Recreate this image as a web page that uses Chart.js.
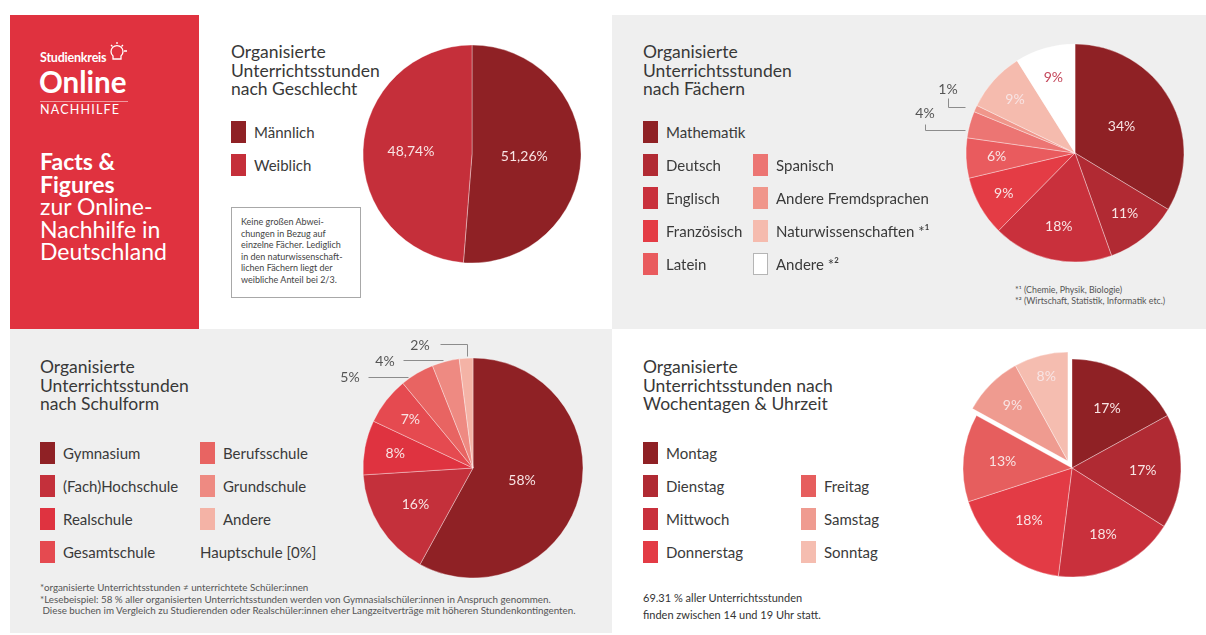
<!DOCTYPE html>
<html lang="de">
<head>
<meta charset="utf-8">
<script src="https://cdn.jsdelivr.net/npm/chart.js@4.4.1/dist/chart.umd.min.js"></script>
<style>
  body { margin: 0; width: 1206px; height: 635px; position: relative; background: #fff; font-family: Lato, "Open Sans", sans-serif; color: #3a3a3a; overflow: hidden; }
  .box { position: absolute; }
  .gray { background: #efefef; }
  .title { position: absolute; font-size: 17.5px; line-height: 18.5px; color: #383838; white-space: nowrap; }
  .leg { position: absolute; display: flex; align-items: center; height: 22px; font-size: 15px; color: #3a3a3a; white-space: nowrap; }
  .sw { width: 15px; height: 22px; margin-right: 8px; box-sizing: border-box; }
  .note { position: absolute; white-space: nowrap; color: #555; }
  canvas { position: absolute; }
</style>
</head>
<body>

<!-- panels -->
<div class="box" style="left:10px;top:15px;width:189px;height:314px;background:#e0323f;"></div>
<div class="box gray" style="left:612px;top:15px;width:594px;height:314px;"></div>
<div class="box gray" style="left:10px;top:329px;width:602px;height:304px;"></div>

<!-- logo / intro -->
<div class="box" style="left:40px;top:50px;color:#fff;font-weight:700;font-size:12.5px;letter-spacing:-0.2px;">Studienkreis</div>
<svg class="box" style="left:108px;top:40px;" width="22" height="24" viewBox="0 0 22 24">
  <path d="M5 16 a6 6 0 1 1 8 0 l0 3 l-8 0 z" fill="none" stroke="#fff" stroke-width="1.3"/>
  <path d="M9 2 v2 M3 5 l1.5 1.5 M15 5 l-1.5 1.5 M16 11 h3" stroke="#fff" stroke-width="1.3"/>
</svg>
<div class="box" style="left:39px;top:66px;color:#fff;font-weight:700;font-size:29.5px;line-height:31px;">Online</div>
<div class="box" style="left:40px;top:101px;width:88px;height:1px;background:rgba(255,255,255,0.5);"></div>
<div class="box" style="left:40px;top:102px;color:#fff;font-size:12.5px;letter-spacing:1.2px;">NACHHILFE</div>
<div class="box" style="left:40px;top:150px;color:#fff;font-size:23px;line-height:22.6px;">
  <b>Facts &amp;<br>Figures</b><br>zur Online-<br>Nachhilfe in<br>Deutschland
</div>

<!-- titles -->
<div class="title" style="left:231px;top:43px;">Organisierte<br>Unterrichtsstunden<br>nach Geschlecht</div>
<div class="title" style="left:643px;top:43px;">Organisierte<br>Unterrichtsstunden<br>nach Fächern</div>
<div class="title" style="left:40px;top:358px;">Organisierte<br>Unterrichtsstunden<br>nach Schulform</div>
<div class="title" style="left:643px;top:358px;">Organisierte<br>Unterrichtsstunden nach<br>Wochentagen &amp; Uhrzeit</div>

<!-- notes -->
<div class="box" style="left:231px;top:207px;width:130px;height:91px;border:1px solid #a8a8a8;box-sizing:border-box;background:#fff;"></div>
<div class="note" style="left:241px;top:216px;font-size:9px;line-height:11.6px;color:#444;">Keine großen Abwei-<br>chungen in Bezug auf<br>einzelne Fächer. Lediglich<br>in den naturwissenschaft-<br>lichen Fächern liegt der<br>weibliche Anteil bei 2/3.</div>
<div class="note" style="left:1015px;top:285px;font-size:8.8px;line-height:10.5px;">*¹ (Chemie, Physik, Biologie)<br>*² (Wirtschaft, Statistik, Informatik etc.)</div>
<div class="note" style="left:40px;top:582px;font-size:9.8px;line-height:11.5px;">*organisierte Unterrichtsstunden ≠ unterrichtete Schüler:innen<br>*Lesebeispiel: 58 % aller organisierten Unterrichtsstunden werden von Gymnasialschüler:innen in Anspruch genommen.<br>&nbsp;Diese buchen im Vergleich zu Studierenden oder Realschüler:innen eher Langzeitverträge mit höheren Stundenkontingenten.</div>
<div class="note" style="left:643px;top:589px;font-size:11px;line-height:17px;color:#333;">69.31 % aller Unterrichtsstunden<br>finden zwischen 14 und 19 Uhr statt.</div>

<canvas id="pieGender" width="240" height="240" style="left:352px;top:34px;"></canvas>
<canvas id="pieSubject" width="340" height="240" style="left:905px;top:33px;"></canvas>
<canvas id="pieSchool" width="300" height="270" style="left:323px;top:333px;"></canvas>
<canvas id="pieDay" width="260" height="260" style="left:942px;top:338px;"></canvas>

<script>
// ---- data ----
const genderLabels = ["Männlich", "Weiblich"];
const genderValues = [51.26, 48.74];

const subjectLabels = ["Mathematik", "Deutsch", "Englisch", "Französisch", "Latein",
  "Spanisch", "Andere Fremdsprachen", "Naturwissenschaften *¹", "Andere *²"];
const subjectValues = [34, 11, 18, 9, 6, 4, 1, 9, 9];

const schoolLabels = ["Gymnasium", "(Fach)Hochschule", "Realschule", "Gesamtschule",
  "Berufsschule", "Grundschule", "Andere", "Hauptschule"];
const schoolValues = [58, 16, 8, 7, 5, 4, 2, 0];

const dayLabels = ["Montag", "Dienstag", "Mittwoch", "Donnerstag", "Freitag", "Samstag", "Sonntag"];
const dayValues = [17, 17, 18, 18, 13, 9, 8];

// ---- colours ----
const DARK = "#8f2125";
const genderColors = [DARK, "#c52f3a"];
const subjectColors = [DARK, "#b12a33", "#c9303c", "#e43c45", "#e95b5e", "#ec7573", "#f0968b", "#f5bbae", "#ffffff"];
const schoolColors = [DARK, "#c4303b", "#df3340", "#e54a50", "#e86462", "#ee8a82", "#f4b3a6", "transparent"];
const dayColors = [DARK, "#b02a33", "#c9303c", "#e33b45", "#e65e5e", "#ef9b90", "#f5bdb0"];

// ---- legends (html) ----
function buildLegend(origin, colGap, labels, values, colors, slots) {
  labels.forEach((lab, i) => {
    const [col, row] = slots[i];
    const el = document.createElement("div");
    el.className = "leg";
    el.style.left = (origin[0] + col * colGap) + "px";
    el.style.top = (origin[1] + row * 33) + "px";
    if (values[i] === 0) {
      el.textContent = lab + " [0%]";
    } else {
      const sw = document.createElement("div");
      sw.className = "sw";
      sw.style.background = colors[i];
      if (colors[i] === "#ffffff") sw.style.border = "1px solid #b5b5b5";
      el.appendChild(sw);
      el.appendChild(document.createTextNode(lab));
    }
    document.body.appendChild(el);
  });
}
buildLegend([231, 121], 0, genderLabels, genderValues, genderColors, [[0, 0], [0, 1]]);
buildLegend([643, 121], 110, subjectLabels, subjectValues, subjectColors,
  [[0, 0], [0, 1], [0, 2], [0, 3], [0, 4], [1, 1], [1, 2], [1, 3], [1, 4]]);
buildLegend([40, 442], 160, schoolLabels, schoolValues, schoolColors,
  [[0, 0], [0, 1], [0, 2], [0, 3], [1, 0], [1, 1], [1, 2], [1, 3]]);
buildLegend([643, 442], 158, dayLabels, dayValues, dayColors,
  [[0, 0], [0, 1], [0, 2], [0, 3], [1, 1], [1, 2], [1, 3]]);

// ---- plugins ----
// move a group of slices outward together (pulled-out wedge)
const explode = {
  id: "explode",
  beforeDatasetsDraw(chart, args, opts) {
    if (!opts.indices) return;
    const meta = chart.getDatasetMeta(0);
    const a = chart.chartArea;
    const cx = (a.left + a.right) / 2, cy = (a.top + a.bottom) / 2;
    const arcs = opts.indices.map(i => meta.data[i]);
    const mid = (Math.min(...arcs.map(e => e.startAngle)) + Math.max(...arcs.map(e => e.endAngle))) / 2;
    arcs.forEach(e => {
      e.x = cx + Math.cos(mid) * opts.distance;
      e.y = cy + Math.sin(mid) * opts.distance;
    });
  }
};

const sliceLabels = {
  id: "sliceLabels",
  afterDatasetsDraw(chart, args, opts) {
    const meta = chart.getDatasetMeta(0);
    const values = chart.data.datasets[0].data;
    const ctx = chart.ctx;
    ctx.save();
    ctx.font = "14px Lato, sans-serif";
    ctx.textAlign = "center";
    ctx.textBaseline = "middle";
    meta.data.forEach((arc, i) => {
      const f = opts.radius[i];
      if (f == null || !values[i]) return;
      const mid = (arc.startAngle + arc.endAngle) / 2;
      ctx.fillStyle = (opts.colors && opts.colors[i]) || "#f8e4e4";
      ctx.fillText(opts.format(values[i]),
        arc.x + Math.cos(mid) * arc.outerRadius * f,
        arc.y + Math.sin(mid) * arc.outerRadius * f);
    });
    // leader labels for thin slices
    const a = chart.chartArea;
    const cx = (a.left + a.right) / 2, cy = (a.top + a.bottom) / 2;
    (opts.leaders || []).forEach(l => {
      ctx.fillStyle = "#555";
      ctx.fillText(opts.format(values[l.i]), cx + l.label[0], cy + l.label[1]);
      ctx.strokeStyle = "#8c8c8c";
      ctx.lineWidth = 1;
      ctx.beginPath();
      l.path.forEach((p, k) => {
        const x = Math.round(cx + p[0]) + 0.5, y = Math.round(cy + p[1]) + 0.5;
        if (k === 0) ctx.moveTo(x, y); else ctx.lineTo(x, y);
      });
      ctx.stroke();
    });
    ctx.restore();
  }
};

const pct = v => v + "%";
const pctComma = v => v.toFixed(2).replace(".", ",") + "%";

function makePie(id, labels, values, colors, radius, pluginOpts) {
  return new Chart(document.getElementById(id), {
    type: "pie",
    data: {
      labels,
      datasets: [{
        data: values,
        backgroundColor: colors,
        borderColor: "rgba(255,255,255,0.35)",
        borderWidth: 1,
        clip: false
      }]
    },
    options: {
      responsive: false,
      animation: false,
      radius,
      layout: { padding: 0 },
      plugins: Object.assign({ legend: { display: false }, tooltip: { enabled: false } }, pluginOpts)
    },
    plugins: [explode, sliceLabels]
  });
}

makePie("pieGender", genderLabels, genderValues, genderColors, 109, {
  sliceLabels: { radius: [0.48, 0.56], format: pctComma }
});

makePie("pieSubject", subjectLabels, subjectValues, subjectColors, 109, {
  sliceLabels: {
    radius: [0.49, 0.72, 0.69, 0.75, 0.72, null, null, 0.74, 0.72],
    colors: { 8: "#c4465a" },
    format: pct,
    leaders: [
      { i: 6, label: [-127, -64], path: [[-127, -55], [-127, -46], [-110, -46]] },
      { i: 5, label: [-150, -40], path: [[-150, -29], [-150, -23], [-110, -23]] }
    ]
  }
});

makePie("pieSchool", schoolLabels, schoolValues, schoolColors, 110, {
  sliceLabels: {
    radius: [0.46, 0.62, 0.72, 0.72, null, null, null, null],
    format: pct,
    leaders: [
      { i: 6, label: [-53, -123], path: [[-33, -124], [-6, -124], [-6, -112]] },
      { i: 5, label: [-88, -107], path: [[-70, -108], [-30, -108]] },
      { i: 4, label: [-123, -91], path: [[-105, -91], [-65, -91]] }
    ]
  }
});

makePie("pieDay", dayLabels, dayValues, dayColors, 109, {
  explode: { indices: [5, 6], distance: 8 },
  sliceLabels: { radius: [0.63, 0.65, 0.67, 0.62, 0.64, 0.72, 0.8], format: pct }
});
</script>
</body>
</html>
